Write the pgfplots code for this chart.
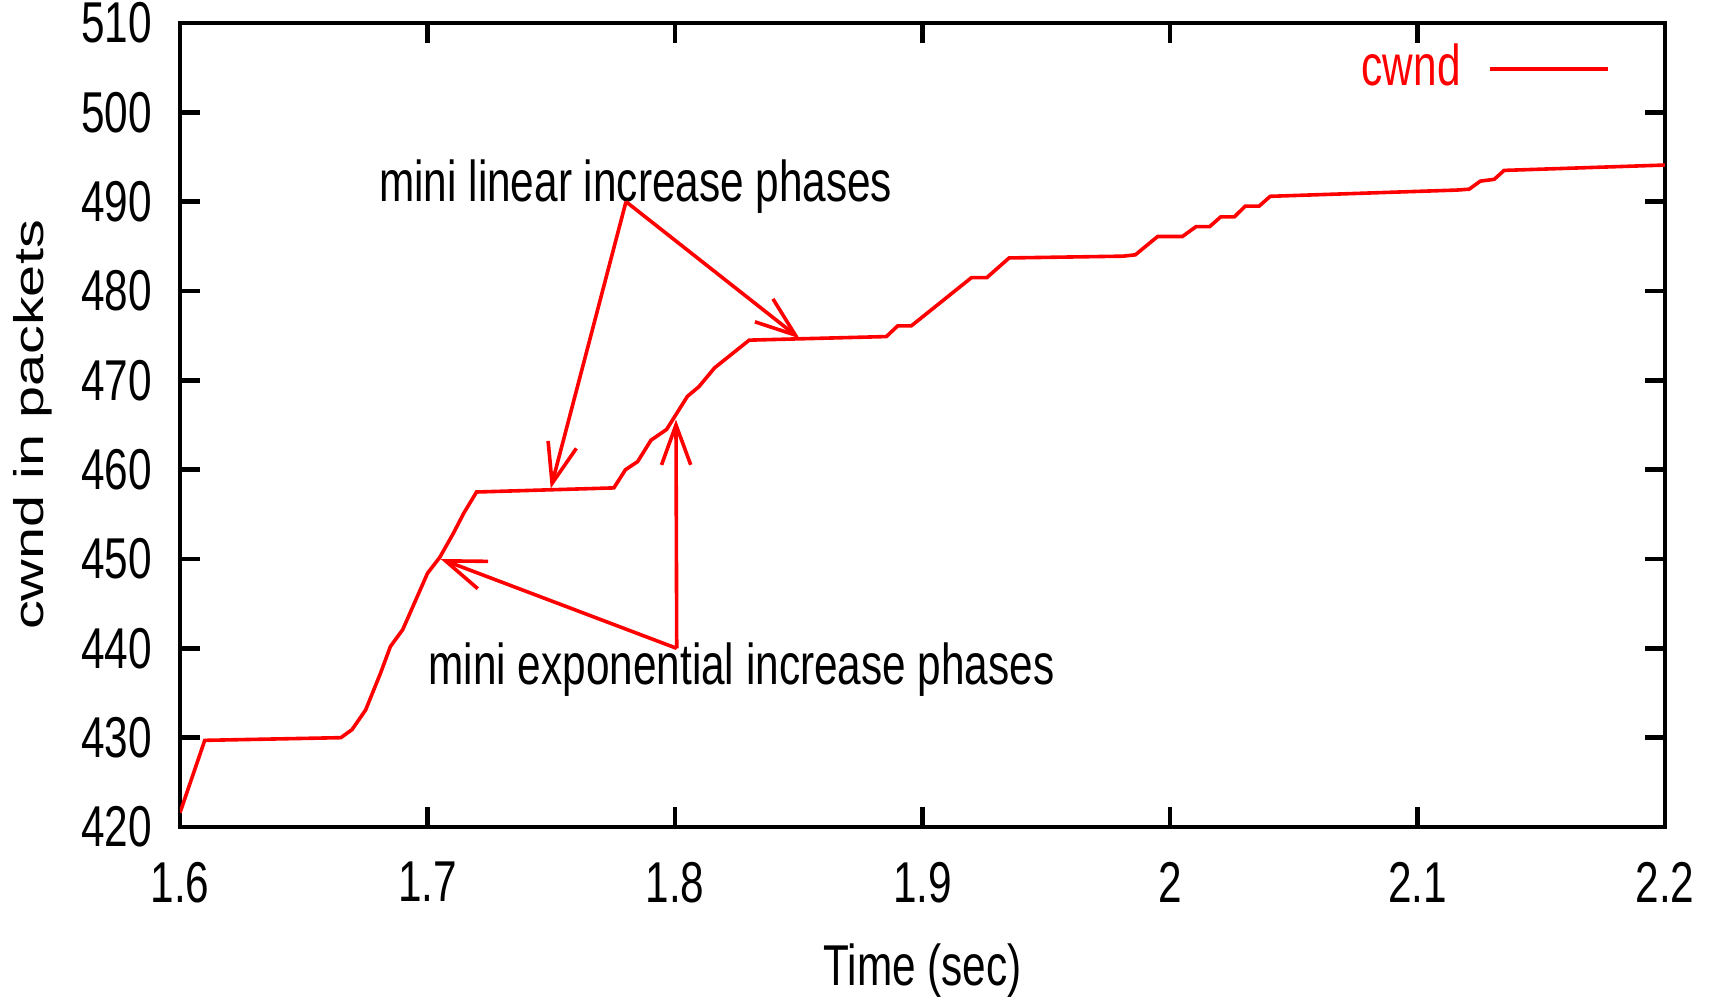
\documentclass[border=0pt]{standalone}
\usepackage{fontspec}
\setmainfont{Liberation Sans}[FakeStretch=0.735]
\newfontfamily\ylabfont{Liberation Sans}[FakeStretch=1.389]
\usepackage{pgfplots}
\pgfplotsset{compat=1.18}
\usetikzlibrary{arrows.meta}

\begin{document}
\fontsize{14.4bp}{17bp}\selectfont
\begin{tikzpicture}
\begin{axis}[
  name=ax,
  scale only axis,
  width=371.25bp, height=201bp,
  xmin=1.6, xmax=2.2, ymin=420, ymax=510,
  xtick={1.6,1.7,1.8,1.9,2,2.1,2.2},
  ytick={420,430,440,450,460,470,480,490,500,510},
  axis line style={line width=1.1bp},
  major tick style={line width=1.1bp, black},
  major tick length=5bp,
  tick align=inside,
  /pgf/number format/assume math mode=true,
  /pgf/number format/fixed,
  xticklabel style={yshift=-3.7bp},
  yticklabel style={xshift=-2bp},
  xlabel={Time (sec)},
  ylabel={cwnd in packets},
  every axis x label/.style={at={(rel axis cs:0.5,-0.178)}, anchor=center},
  every axis y label/.style={at={(rel axis cs:-0.099,0.5)}, rotate=90, anchor=center,
    font=\ylabfont\fontsize{10.37bp}{12bp}\selectfont},
  legend plot pos=right,
  legend style={draw=none, fill=none, text=red, inner sep=0pt, column sep=5bp,
    at={(rel axis cs:0.9636,0.9425)}, anchor=east},
  legend image code/.code={\draw[#1] (0bp,0bp) -- (29.5bp,0bp);},
]
\addplot[red, line width=0.9bp] coordinates {
(1.6,421.6) (1.610,429.7) (1.665,430.0) (1.6695,430.9) (1.675,433.1)
(1.681,437.2) (1.685,440.2) (1.690,442.1) (1.700,448.4) (1.705,450.2)
(1.7105,452.9) (1.7146,455.1) (1.7198,457.5) (1.7753,457.96) (1.780,460.0)
(1.7849,460.9) (1.7903,463.3) (1.7966,464.5) (1.805,468.2) (1.8097,469.3)
(1.816,471.4) (1.830,474.5) (1.8854,474.9) (1.890,476.1) (1.8955,476.1)
(1.9198,481.5) (1.926,481.5) (1.935,483.7) (1.981,483.9) (1.986,484.05)
(1.995,486.1) (2.005,486.1) (2.0105,487.2) (2.016,487.2) (2.0205,488.3)
(2.026,488.3) (2.0304,489.5) (2.036,489.5) (2.0405,490.6) (2.116,491.3)
(2.1209,491.4) (2.1254,492.3) (2.131,492.5) (2.135,493.5) (2.2,494.1)
};
\addlegendentry{cwnd}

% annotations
\node[anchor=base west, inner sep=0pt] at (axis cs:1.6802,490.0) {mini linear increase phases};
\node[anchor=base west, inner sep=0pt] at (axis cs:1.7001,435.96) {mini exponential increase phases};
\draw[red, line width=0.9bp, -{Straight Barb[length=10bp,width=7.3bp]}]
  (axis cs:1.7802,490.0) -- (axis cs:1.7498,457.9);
\draw[red, line width=0.9bp, -{Straight Barb[length=10bp,width=7.3bp]}]
  (axis cs:1.7802,490.0) -- (axis cs:1.8503,474.7);
\draw[red, line width=0.9bp, -{Straight Barb[length=10bp,width=7.3bp]}]
  (axis cs:1.8007,440.0) -- (axis cs:1.7053,450.0);
\draw[red, line width=0.9bp, -{Straight Barb[length=10bp,width=7.3bp]}]
  (axis cs:1.8007,440.0) -- (axis cs:1.8004,465.6);
\end{axis}
\pgfresetboundingbox
\path[use as bounding box] ([xshift=-45bp,yshift=-44bp]ax.south west)
  rectangle ([xshift=11bp,yshift=5.75bp]ax.north east);
\end{tikzpicture}
\end{document}
